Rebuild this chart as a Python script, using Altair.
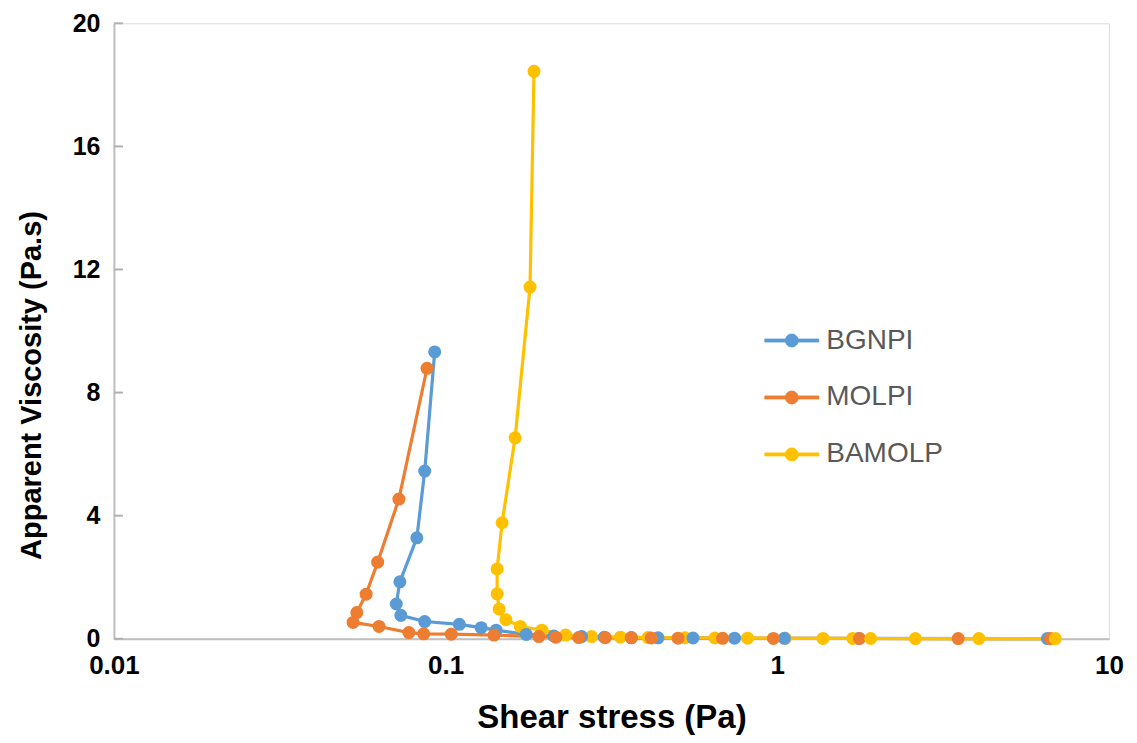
import altair as alt
import pandas as pd

series_names = ["BGNPI", "MOLPI", "BAMOLP"]
series_colors = ["#5B9BD5", "#ED7D31", "#FFC000"]

bgnpi_x = [0.0927, 0.0865, 0.0819, 0.0728, 0.0710, 0.0733, 0.0865, 0.110, 0.128, 0.142,
           0.175, 0.212, 0.257, 0.301, 0.363, 0.437, 0.557, 0.743, 1.05, 1.76, 6.52]
bgnpi_y = [9.32, 5.45, 3.28, 1.85, 1.13, 0.76, 0.56, 0.47, 0.36, 0.28,
           0.14, 0.09, 0.07, 0.05, 0.04, 0.03, 0.025, 0.02, 0.015, 0.01, 0.005]

molpi_x = [0.0879, 0.0723, 0.0624, 0.0576, 0.0540, 0.0526, 0.0630, 0.0775, 0.0859, 0.104,
           0.140, 0.191, 0.215, 0.252, 0.303, 0.363, 0.417, 0.502, 0.684, 0.973, 1.77, 3.51, 6.66]
molpi_y = [8.79, 4.54, 2.49, 1.45, 0.85, 0.53, 0.40, 0.20, 0.16, 0.15,
           0.12, 0.07, 0.05, 0.04, 0.035, 0.03, 0.025, 0.02, 0.015, 0.01, 0.008, 0.006, 0.004]

bamolp_x = [0.1847, 0.1797, 0.162, 0.148, 0.143, 0.143, 0.145, 0.152, 0.168, 0.195,
            0.230, 0.2755, 0.3365, 0.408, 0.527, 0.648, 0.8135, 1.057, 1.373, 1.689,
            1.912, 2.608, 4.053, 6.89]
bamolp_y = [18.44, 11.43, 6.53, 3.77, 2.27, 1.46, 0.97, 0.62, 0.40, 0.28,
            0.12, 0.07, 0.05, 0.04, 0.03, 0.025, 0.02, 0.015, 0.012, 0.01,
            0.009, 0.007, 0.005, 0.004]

x_ticks = [0.01, 0.1, 1, 10]
y_ticks = [0, 4, 8, 12, 16, 20]

rows = []
for name, xs, ys in [("BGNPI", bgnpi_x, bgnpi_y), ("MOLPI", molpi_x, molpi_y),
                     ("BAMOLP", bamolp_x, bamolp_y)]:
    for i, (xv, yv) in enumerate(zip(xs, ys)):
        rows.append({"series": name, "stress": xv, "visc": yv, "idx": i})
df = pd.DataFrame(rows)
df_ticks = pd.DataFrame({"visc": y_ticks})

legend_path = ("M-1,-0.056L-0.235,-0.056A0.2415,0.2415,0,0,1,0.235,-0.056L1,-0.056"
               "L1,0.056L0.235,0.056A0.2415,0.2415,0,0,1,-0.235,0.056L-1,0.056Z")

FONT = "Liberation Sans"

color = alt.Color(
    "series:N",
    scale=alt.Scale(domain=series_names, range=series_colors),
    legend=alt.Legend(
        title=None, orient="none", legendX=651, legendY=290,
        symbolType=legend_path, symbolSize=2916, symbolStrokeWidth=0.8,
        symbolOpacity=1,
        labelFont=FONT, labelFontSize=28, labelColor="#595959", labelOffset=7,
        rowPadding=15, padding=0,
    ),
)

lines = alt.Chart(df).mark_line(
    strokeWidth=3.2,
    point=alt.OverlayMarkDef(filled=True, size=170, opacity=1),
).encode(
    x=alt.X("stress:Q",
            scale=alt.Scale(type="log", domain=[0.01, 10]),
            axis=alt.Axis(values=x_ticks, format="~g", title="Shear stress (Pa)",
                          ticks=False, grid=False, labelFlush=False,
                          domainColor="#BFBFBF", domainWidth=2,
                          labelFont=FONT, labelFontSize=26, labelFontWeight="bold",
                          labelColor="black", labelPadding=14,
                          titleFont=FONT, titleFontSize=33, titleFontWeight="bold",
                          titleColor="black", titleX=498, titleY=79,
                          titleBaseline="middle", titleAlign="center")),
    y=alt.Y("visc:Q",
            scale=alt.Scale(domain=[0, 20]),
            axis=alt.Axis(values=y_ticks, title="Apparent Viscosity (Pa.s)",
                          ticks=False, grid=False, labelFlush=False,
                          domainColor="#BFBFBF", domainWidth=2,
                          labelFont=FONT, labelFontSize=25, labelFontWeight="bold",
                          labelColor="black", labelPadding=14,
                          titleFont=FONT, titleFontSize=29, titleFontWeight="bold",
                          titleColor="black", titleX=-82, titleY=362,
                          titleAngle=-90, titleBaseline="middle", titleAlign="center")),
    color=color,
    order=alt.Order("idx:Q"),
)

tick_marks = alt.Chart(df_ticks).mark_rule(color="#B0B0B0", strokeWidth=2).encode(
    y=alt.Y("visc:Q"),
    x=alt.value(0),
    x2=alt.value(9),
)

chart = alt.layer(tick_marks, lines).properties(
    width=996, height=616,
    autosize=alt.AutoSizeParams(type="none"),
    padding={"left": 106, "top": 15, "right": 20, "bottom": 96},
).configure_view(stroke="#7F7F7F", strokeWidth=2).configure(background="white")

chart.save("out.html", embed_options={"renderer": "svg", "actions": False})
